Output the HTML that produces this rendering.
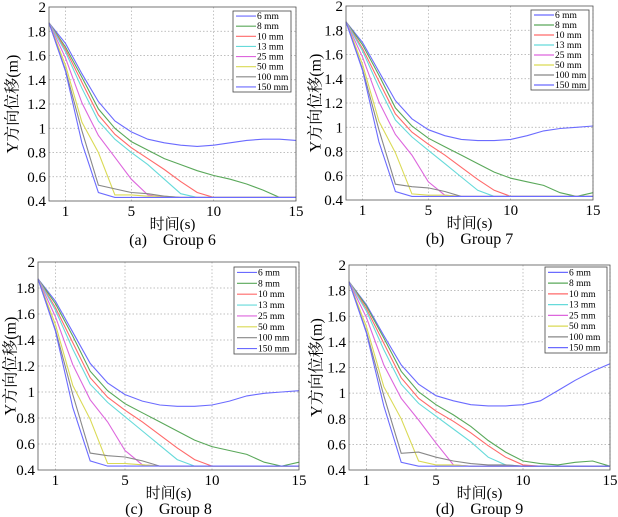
<!DOCTYPE html>
<html><head><meta charset="utf-8">
<style>
html,body{margin:0;padding:0;background:#fff;}
svg{display:block;font-family:"Liberation Serif","Noto Serif CJK SC",serif;}
.pre{white-space:pre;}
</style></head>
<body>
<svg id="fig" width="618" height="517" viewBox="0 0 618 517" xmlns="http://www.w3.org/2000/svg"></svg>
<script>
const times = [0,1,2,3,4,5,6,7,8,9,10,11,12,13,14,15];
const seriesNames = ["6 mm","8 mm","10 mm","13 mm","25 mm","50 mm","100 mm","150 mm"];
const xTicks = [1,5,10,15];
const yTicks = [0.4,0.6,0.8,1,1.2,1.4,1.6,1.8,2];
const yTickLabels = ["0.4","0.6","0.8","1","1.2","1.4","1.6","1.8","2"];
const captions = ["(a)    Group 6","(b)    Group 7","(c)    Group 8","(d)    Group 9"];

const g6_6 = [1.87,1.70,1.45,1.22,1.06,0.97,0.91,0.88,0.86,0.85,0.86,0.88,0.90,0.91,0.91,0.90];
const g6_8 = [1.87,1.67,1.42,1.16,1.00,0.89,0.82,0.75,0.70,0.65,0.61,0.58,0.54,0.49,0.43,0.43];
const g6_10 = [1.87,1.65,1.38,1.11,0.95,0.84,0.75,0.66,0.56,0.47,0.43,0.43,0.43,0.43,0.43,0.43];
const g6_13 = [1.87,1.63,1.33,1.06,0.91,0.80,0.70,0.58,0.46,0.43,0.43,0.43,0.43,0.43,0.43,0.43];
const g6_25 = [1.87,1.58,1.21,0.94,0.76,0.58,0.45,0.43,0.43,0.43,0.43,0.43,0.43,0.43,0.43,0.43];
const g6_50 = [1.87,1.52,1.05,0.80,0.45,0.45,0.44,0.44,0.43,0.43,0.43,0.43,0.43,0.43,0.43,0.43];
const g6_100 = [1.87,1.48,0.98,0.53,0.50,0.47,0.46,0.44,0.43,0.43,0.43,0.43,0.43,0.43,0.43,0.43];
const g6_150 = [1.87,1.47,0.88,0.47,0.43,0.43,0.43,0.43,0.43,0.43,0.43,0.43,0.43,0.43,0.43,0.43];

const g7_6 = [1.87,1.70,1.46,1.22,1.07,0.98,0.93,0.90,0.89,0.89,0.90,0.93,0.97,0.99,1.00,1.01];
const g7_8 = [1.87,1.68,1.43,1.16,1.01,0.91,0.84,0.77,0.70,0.63,0.58,0.55,0.52,0.46,0.43,0.46];
const g7_10 = [1.87,1.65,1.38,1.11,0.96,0.86,0.77,0.67,0.57,0.48,0.43,0.43,0.43,0.43,0.43,0.43];
const g7_13 = [1.87,1.63,1.33,1.06,0.92,0.81,0.70,0.59,0.48,0.43,0.43,0.43,0.43,0.43,0.43,0.43];
const g7_25 = [1.87,1.58,1.21,0.94,0.77,0.55,0.44,0.43,0.43,0.43,0.43,0.43,0.43,0.43,0.43,0.43];
const g7_50 = [1.87,1.52,1.05,0.79,0.45,0.44,0.44,0.43,0.43,0.43,0.43,0.43,0.43,0.43,0.43,0.43];
const g7_100 = [1.87,1.48,0.98,0.53,0.51,0.50,0.47,0.43,0.43,0.43,0.43,0.43,0.43,0.43,0.43,0.43];
const g7_150 = [1.87,1.47,0.88,0.47,0.43,0.43,0.43,0.43,0.43,0.43,0.43,0.43,0.43,0.43,0.43,0.43];

const g8_6 = [1.87,1.70,1.46,1.22,1.07,0.98,0.93,0.90,0.89,0.89,0.90,0.93,0.97,0.99,1.00,1.01];
const g8_8 = [1.87,1.68,1.43,1.16,1.01,0.91,0.84,0.77,0.70,0.63,0.58,0.55,0.52,0.46,0.43,0.46];
const g8_10 = [1.87,1.65,1.38,1.11,0.96,0.86,0.77,0.67,0.57,0.48,0.43,0.43,0.43,0.43,0.43,0.43];
const g8_13 = [1.87,1.63,1.33,1.06,0.92,0.81,0.70,0.59,0.48,0.43,0.43,0.43,0.43,0.43,0.43,0.43];
const g8_25 = [1.87,1.58,1.21,0.94,0.77,0.55,0.44,0.43,0.43,0.43,0.43,0.43,0.43,0.43,0.43,0.43];
const g8_50 = [1.87,1.52,1.05,0.79,0.45,0.45,0.44,0.43,0.43,0.43,0.43,0.43,0.43,0.43,0.43,0.43];
const g8_100 = [1.87,1.48,0.98,0.53,0.51,0.50,0.47,0.43,0.43,0.43,0.43,0.43,0.43,0.43,0.43,0.43];
const g8_150 = [1.87,1.47,0.88,0.47,0.43,0.43,0.43,0.43,0.43,0.43,0.43,0.43,0.43,0.43,0.43,0.43];

const g9_6 = [1.87,1.69,1.45,1.22,1.07,0.98,0.94,0.91,0.90,0.90,0.91,0.94,1.02,1.10,1.17,1.23];
const g9_8 = [1.87,1.68,1.43,1.17,1.01,0.91,0.83,0.74,0.63,0.54,0.47,0.45,0.44,0.46,0.47,0.43];
const g9_10 = [1.87,1.66,1.39,1.12,0.96,0.86,0.78,0.69,0.59,0.50,0.44,0.43,0.43,0.43,0.43,0.43];
const g9_13 = [1.87,1.64,1.34,1.07,0.92,0.82,0.72,0.62,0.50,0.44,0.43,0.43,0.43,0.43,0.43,0.43];
const g9_25 = [1.87,1.59,1.22,0.96,0.79,0.61,0.44,0.43,0.43,0.43,0.43,0.43,0.43,0.43,0.43,0.43];
const g9_50 = [1.87,1.52,1.05,0.80,0.47,0.44,0.44,0.43,0.43,0.43,0.43,0.43,0.43,0.43,0.43,0.43];
const g9_100 = [1.87,1.48,0.98,0.53,0.54,0.50,0.47,0.45,0.44,0.44,0.43,0.43,0.43,0.43,0.43,0.43];
const g9_150 = [1.87,1.47,0.90,0.46,0.43,0.43,0.43,0.43,0.43,0.43,0.43,0.43,0.43,0.43,0.43,0.43];

const groups = [
  [g6_6,g6_8,g6_10,g6_13,g6_25,g6_50,g6_100,g6_150],
  [g7_6,g7_8,g7_10,g7_13,g7_25,g7_50,g7_100,g7_150],
  [g8_6,g8_8,g8_10,g8_13,g8_25,g8_50,g8_100,g8_150],
  [g9_6,g9_8,g9_10,g9_13,g9_25,g9_50,g9_100,g9_150]
];

const colors = ["#6b6bff","#5aa85a","#ff6a6a","#66dada","#dd66dd","#dada55","#888888","#6b6bff"];
const panels = [
  {l:49,r:296,t:7,b:201,lg:[233,11,58,81],yl:13},
  {l:346,r:593,t:6,b:200,lg:[531,10,58,80],yl:316},
  {l:38,r:299,t:262,b:470,lg:[234,267,62,87],yl:11},
  {l:349,r:610,t:265,b:470,lg:[545,267,62,86],yl:317}
];
const NS="http://www.w3.org/2000/svg";
const svg=document.getElementById('fig');
function mk(tag,attrs,parent){const e=document.createElementNS(NS,tag);for(const k in attrs)e.setAttribute(k,attrs[k]);(parent||svg).appendChild(e);return e;}

panels.forEach((p,pi)=>{
  const g=mk('g',{});
  
  
  const xs=v=>p.l+(v-0)/(15-0)*(p.r-p.l);
  const ys=v=>p.b-(v-0.4)/(2-0.4)*(p.b-p.t);
  xTicks.forEach(t=>{
    const ln=mk('line',{x1:xs(t),x2:xs(t),y1:p.t,y2:p.b,stroke:'#aaa','stroke-width':0.7,'stroke-dasharray':'1.5,2'},g);
    
    
    const tx=mk('text',{x:xs(t),y:p.b+15,'text-anchor':'middle','font-size':15},g);
    tx.textContent=t;
    
    
  });
  yTicks.forEach((t,i)=>{
    if(i>0&&i<yTicks.length-1){
      const ln=mk('line',{x1:p.l,x2:p.r,y1:ys(t),y2:ys(t),stroke:'#aaa','stroke-width':0.7,'stroke-dasharray':'1.5,2'},g);
      
      
    }
    const tx=mk('text',{x:p.l-3,y:ys(t)+5,'text-anchor':'end','font-size':15},g);
    tx.textContent=yTickLabels[i];
    
    
  });
  groups[pi].forEach((arr,si)=>{
    const d=arr.map((v,i)=>(i?'L':'M')+xs(times[i]).toFixed(1)+','+ys(v).toFixed(1)).join(' ');
    const pa=mk('path',{d:d,fill:'none',stroke:colors[si],'stroke-width':1.1},g);
    
    
  });
  const fr=mk('rect',{x:p.l,y:p.t,width:p.r-p.l,height:p.b-p.t,fill:'none',stroke:'#555','stroke-width':0.8},g);
  
  
  const [lx,ly,lw,lh]=p.lg;
  const lg=mk('g',{},g);
  
  
  mk('rect',{x:lx,y:ly,width:lw,height:lh,fill:'#fff',stroke:'#444','stroke-width':0.8},lg);
  const step=lh/8;
  seriesNames.forEach((n,si)=>{
    const yy=ly+step*(si+0.5);
    const e=mk('g',{},lg);
    
    
    mk('line',{x1:lx+3,x2:lx+23,y1:yy,y2:yy,stroke:colors[si],'stroke-width':1.2},e);
    const t=mk('text',{x:lx+24,y:yy+3,'font-size':9.5},e);
    t.textContent=n;
  });
  const xl=mk('text',{x:(p.l+p.r)/2,y:p.b+28,'text-anchor':'middle','font-size':15},g);
  xl.textContent='时间(s)';
  
  
  const cy=(p.t+p.b)/2;
  const yl=mk('text',{x:p.yl,y:cy,'text-anchor':'middle','dominant-baseline':'central','font-size':16,transform:`rotate(-90 ${p.yl} ${cy})`},g);
  yl.textContent='Y方向位移(m)';
  
  
  const cp=mk('text',{x:(p.l+p.r)/2,y:p.b+44,'text-anchor':'middle','font-size':16,'class':'pre'},g);
  cp.textContent=captions[pi];
  
  
});
</script>
</body></html>
